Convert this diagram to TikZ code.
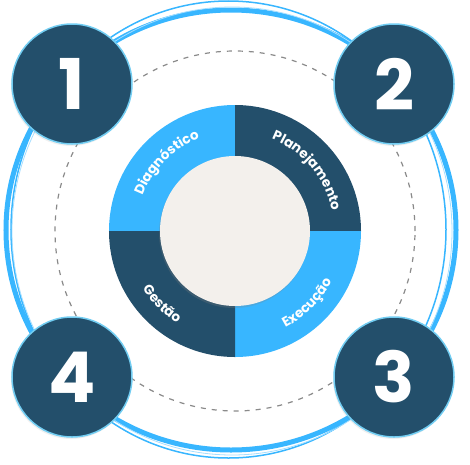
\documentclass[tikz,border=0pt]{standalone}
\usepackage{fontspec}
\setmainfont{Poppins}
\usetikzlibrary{decorations.text,shadows}

\definecolor{navy}{HTML}{234F6B}
\definecolor{sky}{HTML}{38B6FF}
\definecolor{rim}{HTML}{72CDF2}
\definecolor{paper}{HTML}{F3F0EC}
\definecolor{dashgray}{HTML}{8A8A8A}

\tikzset{
  numdisc/.style={circle, fill=navy, draw=rim, line width=1.5pt, minimum size=120pt,
    inner sep=0pt, text=white, font=\fontsize{70}{70}\selectfont\bfseries,
    drop shadow={opacity=0.12, shadow xshift=-1pt, shadow yshift=-2pt}},
  arclabel/.style={decorate, decoration={text along path, text align=center,
    text color=white, text={|\fontsize{13.5}{13.5}\selectfont\bfseries|#1}}},
}

\begin{document}
\begin{tikzpicture}[x=1pt,y=1pt]
\useasboundingbox (-235,-233) rectangle (235,231);

% The outer blue strokes
\draw[sky, line width=5] (-4,1) ellipse [x radius=225, y radius=220];
\draw[sky, line width=1.5] (-6.5,1.5) ellipse [x radius=217.5, y radius=228.5];
\draw[sky!45, line width=0.8] (-3,0) ellipse [x radius=220, y radius=224];

% The dashed orbit
\draw[dashgray, line width=1.2, dash pattern=on 5pt off 6pt] (0,0) circle (180);

% The four quarters
\fill[sky] (0,0) -- (180:126) arc[start angle=180, end angle=90, radius=126] -- cycle;
\fill[navy] (0,0) -- (90:126) arc[start angle=90, end angle=0, radius=126] -- cycle;
\fill[sky] (0,0) -- (0:126) arc[start angle=0, end angle=-90, radius=126] -- cycle;
\fill[navy] (0,0) -- (270:126) arc[start angle=270, end angle=180, radius=126] -- cycle;

% The centre disc
\node[circle, fill=paper, minimum size=150pt, inner sep=0pt,
  drop shadow={opacity=0.25, shadow xshift=-1pt, shadow yshift=-2pt}] (hub) at (0,0) {};

% Labels on the quarters
\path[arclabel=Diagnóstico] (180:99) arc[start angle=180, end angle=90, radius=99];
\path[arclabel=Planejamento] (80:99) arc[start angle=80, end angle=0, radius=99];
\path[arclabel=Execução] (270:109) arc[start angle=270, end angle=360, radius=109];
\path[arclabel=Gestão] (180:109) arc[start angle=180, end angle=270, radius=109];

% The numbered discs
\node[numdisc] (n1) at (-163,147) {1};
\node[numdisc] (n2) at (159,147) {2};
\node[numdisc] (n3) at (159,-146) {3};
\node[numdisc] (n4) at (-163,-146) {4};

\end{tikzpicture}
\end{document}
